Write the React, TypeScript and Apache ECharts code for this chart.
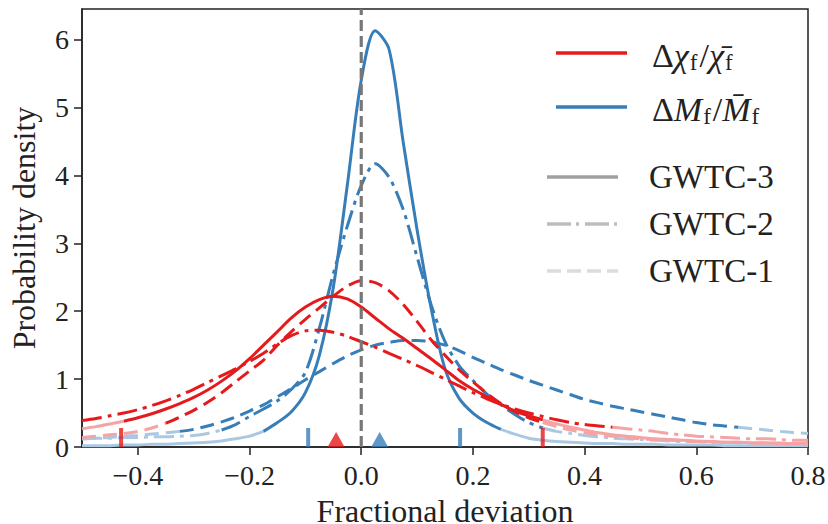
import React, { useEffect, useRef } from "react";
import * as echarts from "echarts";

// Shared x grid (fractional deviation)
const xs = [
  -0.5, -0.475, -0.45, -0.425, -0.4, -0.375, -0.35, -0.325, -0.3, -0.275,
  -0.25, -0.225, -0.2, -0.175, -0.15, -0.125, -0.1, -0.075, -0.05, -0.025,
  0, 0.025, 0.05, 0.075, 0.1, 0.125, 0.15, 0.175, 0.2, 0.225,
  0.25, 0.275, 0.3, 0.325, 0.35, 0.375, 0.4, 0.425, 0.45, 0.475,
  0.5, 0.525, 0.55, 0.575, 0.6, 0.625, 0.65, 0.675, 0.7, 0.725,
  0.75, 0.775, 0.8,
];

// Delta chi_f / chi_f (red)
const chiGWTC3 = [
  0.27, 0.3, 0.34, 0.38, 0.43, 0.49, 0.56, 0.64, 0.73, 0.84,
  0.97, 1.12, 1.3, 1.5, 1.7, 1.9, 2.06, 2.17, 2.22, 2.18,
  2.06, 1.9, 1.74, 1.6, 1.45, 1.3, 1.14, 0.98, 0.85, 0.74,
  0.63, 0.53, 0.46, 0.4, 0.34, 0.29, 0.25, 0.21, 0.18, 0.16,
  0.14, 0.12, 0.11, 0.1, 0.09, 0.08, 0.07, 0.07, 0.06, 0.06,
  0.05, 0.05, 0.05,
];
const chiGWTC2 = [
  0.39, 0.42, 0.46, 0.5, 0.55, 0.61, 0.68, 0.76, 0.85, 0.95,
  1.05, 1.15, 1.26, 1.38, 1.52, 1.64, 1.71, 1.72, 1.69, 1.63,
  1.55, 1.47, 1.38, 1.29, 1.2, 1.1, 1.0, 0.9, 0.8, 0.71,
  0.63, 0.56, 0.5, 0.45, 0.4, 0.36, 0.33, 0.31, 0.29, 0.27,
  0.25, 0.23, 0.2, 0.18, 0.16, 0.15, 0.14, 0.13, 0.12, 0.12,
  0.11, 0.1, 0.1,
];
const chiGWTC1 = [
  0.14, 0.16, 0.18, 0.2, 0.23, 0.28, 0.35, 0.44, 0.54, 0.66,
  0.8, 0.96, 1.12, 1.28, 1.5, 1.7, 1.88, 2.05, 2.22, 2.37,
  2.45, 2.42, 2.3, 2.1, 1.85, 1.58, 1.35, 1.14, 0.96, 0.79,
  0.64, 0.52, 0.43, 0.36, 0.3, 0.25, 0.21, 0.18, 0.16, 0.14,
  0.12, 0.11, 0.1, 0.09, 0.08, 0.08, 0.07, 0.07, 0.06, 0.06,
  0.06, 0.05, 0.05,
];

// Delta M_f / M_f (blue)
const massGWTC3 = [
  0.02, 0.02, 0.02, 0.03, 0.03, 0.04, 0.04, 0.05, 0.06, 0.07,
  0.09, 0.12, 0.16, 0.23, 0.36, 0.52, 0.8, 1.35, 2.35, 3.85,
  5.4, 6.13, 5.85, 4.5, 3.2, 2.05, 1.15, 0.72, 0.5, 0.36,
  0.26, 0.19, 0.13, 0.1, 0.08, 0.07, 0.06, 0.05, 0.05, 0.04,
  0.04, 0.04, 0.03, 0.03, 0.03, 0.03, 0.02, 0.02, 0.02, 0.02,
  0.02, 0.02, 0.02,
];
const massGWTC2 = [
  0.12, 0.13, 0.13, 0.14, 0.14, 0.15, 0.15, 0.16, 0.17, 0.2,
  0.25, 0.33, 0.45, 0.56, 0.68, 0.85, 1.1, 1.75, 2.55, 3.25,
  3.85, 4.17, 3.97, 3.5, 2.8, 2.1, 1.55, 1.2, 0.98, 0.78,
  0.62, 0.48, 0.36, 0.28, 0.23, 0.2, 0.17, 0.15, 0.13, 0.12,
  0.11, 0.1, 0.09, 0.08, 0.08, 0.07, 0.07, 0.06, 0.06, 0.06,
  0.05, 0.05, 0.05,
];
const massGWTC1 = [
  0.12, 0.13, 0.14, 0.16, 0.17, 0.19, 0.21, 0.23, 0.26, 0.31,
  0.37, 0.44, 0.53, 0.62, 0.74, 0.86, 0.99, 1.11, 1.23, 1.34,
  1.43, 1.5, 1.54, 1.57, 1.57, 1.55, 1.5, 1.42, 1.32, 1.23,
  1.14, 1.06, 0.98, 0.91, 0.84, 0.77, 0.7, 0.65, 0.6, 0.56,
  0.52, 0.48, 0.44, 0.4, 0.36, 0.33, 0.31, 0.29, 0.27, 0.25,
  0.23, 0.21, 0.2,
];

// Ranges drawn at full colour (outside: pale tails)
const chiRanges = { g3: [-0.425, 0.325], g2: [-0.5, 0.45], g1: [-0.35, 0.325] };
const massRanges = { g3: [-0.175, 0.25], g2: [-0.25, 0.325], g1: [-0.325, 0.675] };

// Markers along the bottom
const chiIntervalTicks = [-0.43, 0.325];
const chiMedian = [-0.045];
const massIntervalTicks = [-0.095, 0.177];
const massMedian = [0.033];

const xTicks = [-0.4, -0.2, 0, 0.2, 0.4, 0.6, 0.8];
const yTicks = [0, 1, 2, 3, 4, 5, 6];

const RED = "#e41a1c";
const RED_LIGHT = "#f5a3a4";
const BLUE = "#377eb8";
const BLUE_LIGHT = "#abc8e2";
const FONT = "Liberation Serif";
const INK = "#222";

const DASH = [14, 7];
const DASHDOT = [20, 6, 4, 6];

function curveSeries(ys: number[], range: number[], color: string, light: string, type: any, z: number) {
  const eps = 1e-9;
  const mid: number[][] = [];
  const left: number[][] = [];
  const right: number[][] = [];
  xs.forEach((x, i) => {
    const p = [x, ys[i]];
    if (x >= range[0] - eps && x <= range[1] + eps) mid.push(p);
    if (x <= range[0] + eps) left.push(p);
    if (x >= range[1] - eps) right.push(p);
  });
  const base = (data: number[][], c: string, zz: number) => ({
    type: "line",
    data,
    smooth: 0.3,
    showSymbol: false,
    symbol: "none",
    silent: true,
    z: zz,
    lineStyle: { color: c, width: 3, type, cap: "butt" },
  });
  const out: any[] = [];
  if (left.length > 1) out.push(base(left, light, z - 1));
  if (right.length > 1) out.push(base(right, light, z - 1));
  out.push(base(mid, color, z));
  return out;
}

export default function App() {
  const ref = useRef<HTMLDivElement>(null);
  useEffect(() => {
    if (!ref.current) return;
    document.body.style.margin = "0";
    const chart = echarts.init(ref.current, undefined, { renderer: "svg" });

    const series: any[] = [
      ...curveSeries(massGWTC1, massRanges.g1, BLUE, BLUE_LIGHT, DASH, 4),
      ...curveSeries(massGWTC2, massRanges.g2, BLUE, BLUE_LIGHT, DASHDOT, 4),
      ...curveSeries(massGWTC3, massRanges.g3, BLUE, BLUE_LIGHT, "solid", 4),
      ...curveSeries(chiGWTC1, chiRanges.g1, RED, RED_LIGHT, DASH, 6),
      ...curveSeries(chiGWTC2, chiRanges.g2, RED, RED_LIGHT, DASHDOT, 6),
      ...curveSeries(chiGWTC3, chiRanges.g3, RED, RED_LIGHT, "solid", 6),
      {
        type: "line",
        data: [[0, 0], [0, 6.45]],
        showSymbol: false,
        symbol: "none",
        silent: true,
        z: 10,
        lineStyle: { color: "#777", width: 3.2, type: [11, 5] },
      },
      {
        type: "scatter",
        data: chiIntervalTicks.map((v) => [v, 0]),
        symbol: "rect",
        symbolSize: [4, 19],
        symbolOffset: [0, "-50%"],
        itemStyle: { color: RED },
        z: 12,
        silent: true,
      },
      {
        type: "scatter",
        data: massIntervalTicks.map((v) => [v, 0]),
        symbol: "rect",
        symbolSize: [4, 19],
        symbolOffset: [0, "-50%"],
        itemStyle: { color: BLUE },
        z: 12,
        silent: true,
      },
      {
        type: "scatter",
        data: chiMedian.map((v) => [v, 0]),
        symbol: "triangle",
        symbolSize: [17, 15],
        symbolOffset: [0, "-50%"],
        itemStyle: { color: RED },
        z: 12,
        silent: true,
      },
      {
        type: "scatter",
        data: massMedian.map((v) => [v, 0]),
        symbol: "triangle",
        symbolSize: [17, 15],
        symbolOffset: [0, "-50%"],
        itemStyle: { color: BLUE },
        z: 12,
        silent: true,
      },
    ];

    const legendText = (top: number, text: string) => ({
      type: "text",
      left: 652,
      top,
      style: {
        text,
        fill: INK,
        rich: {
          r: { fontSize: 34, fontFamily: FONT, fill: INK, lineHeight: 38 },
          i: { fontSize: 34, fontFamily: FONT, fontStyle: "italic", fill: INK, lineHeight: 38 },
          s: { fontSize: 23, fontFamily: FONT, fill: INK, verticalAlign: "bottom", lineHeight: 32, padding: [0, 2, 0, 1] },
        },
      },
    });

    const legendLine = (x1: number, x2: number, y: number, color: string, lineDash: any) => ({
      type: "line",
      shape: { x1, y1: y, x2, y2: y },
      style: { stroke: color, lineWidth: 3.5, lineDash, lineCap: "butt" },
    });

    const gwtcText = (top: number, text: string) => ({
      type: "text",
      left: 649,
      top,
      style: { text, fontSize: 33, fontFamily: FONT, fill: INK },
    });

    const option: any = {
      animation: false,
      backgroundColor: "#fff",
      textStyle: { fontFamily: FONT },
      grid: {
        left: 82,
        right: 20,
        top: 9,
        bottom: 77,
        outerBoundsMode: "none",
        containLabel: false,
        show: true,
        borderColor: INK,
        borderWidth: 1.5,
        backgroundColor: "transparent",
      },
      xAxis: {
        type: "value",
        min: -0.5,
        max: 0.8,
        axisLine: { show: true, onZero: false, lineStyle: { color: INK, width: 1.5 } },
        axisTick: { show: true, length: 8, customValues: xTicks, lineStyle: { color: INK, width: 1.5 } },
        axisLabel: {
          customValues: xTicks,
          formatter: (v: number) => (v < 0 ? "\u2212" + Math.abs(v).toFixed(1) : v.toFixed(1)),
          fontSize: 28,
          fontFamily: FONT,
          color: INK,
          margin: 14,
        },
        splitLine: { show: false },
        name: "Fractional deviation",
        nameLocation: "middle",
        nameGap: 34,
        nameTextStyle: { fontSize: 32, fontFamily: FONT, color: INK, lineHeight: 34 },
      },
      yAxis: {
        type: "value",
        min: 0,
        max: 6.45,
        axisLine: { show: true, onZero: false, lineStyle: { color: INK, width: 1.5 } },
        axisTick: { show: true, length: 8, customValues: yTicks, lineStyle: { color: INK, width: 1.5 } },
        axisLabel: {
          customValues: yTicks,
          formatter: (v: number) => String(v),
          fontSize: 28,
          fontFamily: FONT,
          color: INK,
          margin: 13,
        },
        splitLine: { show: false },
        name: "Probability density",
        nameLocation: "middle",
        nameGap: 42,
        nameTextStyle: { fontSize: 32, fontFamily: FONT, color: INK },
      },
      series,
      graphic: [
        legendLine(556, 627, 53, RED, null),
        legendText(38, "{r|\u0394}{i|\u03c7}{s|f}{r|/}{i|\u03c7\u0304}{s|f}"),
        legendLine(556, 627, 107, BLUE, null),
        legendText(92, "{r|\u0394}{i|M}{s|f}{r|/}{i|M\u0304}{s|f}"),
        legendLine(547, 618, 177, "#a0a0a0", null),
        gwtcText(160, "GWTC-3"),
        legendLine(547, 618, 224, "#bdbdbd", [24, 5, 3, 6]),
        gwtcText(207, "GWTC-2"),
        legendLine(547, 618, 271, "#dcdcdc", [14, 6]),
        gwtcText(254, "GWTC-1"),
      ],
    };
    chart.setOption(option);
    return () => chart.dispose();
  }, []);
  return <div ref={ref} style={{ width: 828, height: 524 }} />;
}
